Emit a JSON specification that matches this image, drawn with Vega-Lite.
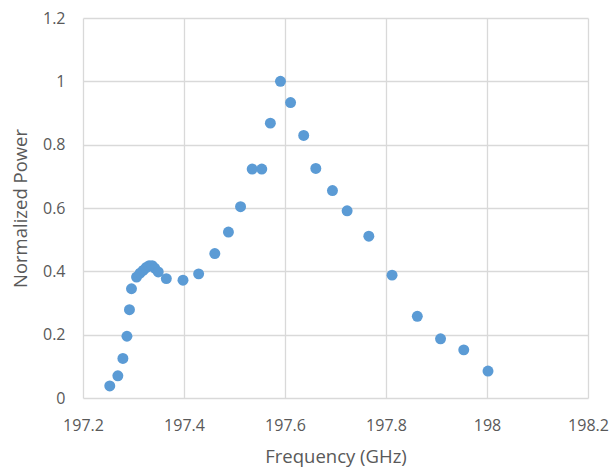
{
  "$schema": "https://vega.github.io/schema/vega-lite/v6.json",
  "autosize": "none",
  "width": 505,
  "height": 380,
  "padding": {"left": 83, "top": 18, "right": 26, "bottom": 70},
  "background": "white",
  "config": {
    "view": {"stroke": null},
    "font": "Open Sans",
    "axis": {
      "labelFont": "Open Sans",
      "titleFont": "Open Sans",
      "labelColor": "#595959",
      "titleColor": "#595959",
      "labelFontSize": 16,
      "titleFontSize": 18.5,
      "titleFontWeight": "normal",
      "gridColor": "#d9d9d9",
      "gridWidth": 1.3,
      "domain": false,
      "ticks": false
    }
  },
  "data": {
    "values": [
      {"f": 197.253, "p": 0.038},
      {"f": 197.269, "p": 0.070},
      {"f": 197.279, "p": 0.125},
      {"f": 197.287, "p": 0.195},
      {"f": 197.292, "p": 0.279},
      {"f": 197.296, "p": 0.345},
      {"f": 197.306, "p": 0.382},
      {"f": 197.313, "p": 0.394},
      {"f": 197.319, "p": 0.403},
      {"f": 197.325, "p": 0.412},
      {"f": 197.331, "p": 0.418},
      {"f": 197.337, "p": 0.418},
      {"f": 197.342, "p": 0.410},
      {"f": 197.349, "p": 0.398},
      {"f": 197.365, "p": 0.377},
      {"f": 197.398, "p": 0.372},
      {"f": 197.429, "p": 0.392},
      {"f": 197.461, "p": 0.456},
      {"f": 197.488, "p": 0.524},
      {"f": 197.512, "p": 0.604},
      {"f": 197.535, "p": 0.723},
      {"f": 197.554, "p": 0.723},
      {"f": 197.571, "p": 0.868},
      {"f": 197.591, "p": 1.0},
      {"f": 197.611, "p": 0.933},
      {"f": 197.637, "p": 0.829},
      {"f": 197.661, "p": 0.725},
      {"f": 197.694, "p": 0.655},
      {"f": 197.723, "p": 0.591},
      {"f": 197.766, "p": 0.511},
      {"f": 197.812, "p": 0.388},
      {"f": 197.862, "p": 0.258},
      {"f": 197.908, "p": 0.187},
      {"f": 197.954, "p": 0.152},
      {"f": 198.002, "p": 0.085}
    ]
  },
  "mark": {"type": "point", "filled": true, "shape": "circle", "size": 120, "color": "#5B9BD5", "opacity": 1},
  "encoding": {
    "x": {
      "field": "f", "type": "quantitative",
      "scale": {"domain": [197.2, 198.2], "nice": false, "zero": false},
      "axis": {"values": [197.2, 197.4, 197.6, 197.8, 198.0, 198.2], "format": "~g", "title": "Frequency (GHz)", "labelPadding": 19, "titlePadding": 14, "labelFlush": false}
    },
    "y": {
      "field": "p", "type": "quantitative",
      "scale": {"domain": [0, 1.2], "nice": false},
      "axis": {"values": [0, 0.2, 0.4, 0.6, 0.8, 1.0, 1.2], "format": "~g", "title": "Normalized Power", "labelPadding": 18, "titlePadding": 12}
    }
  }
}
